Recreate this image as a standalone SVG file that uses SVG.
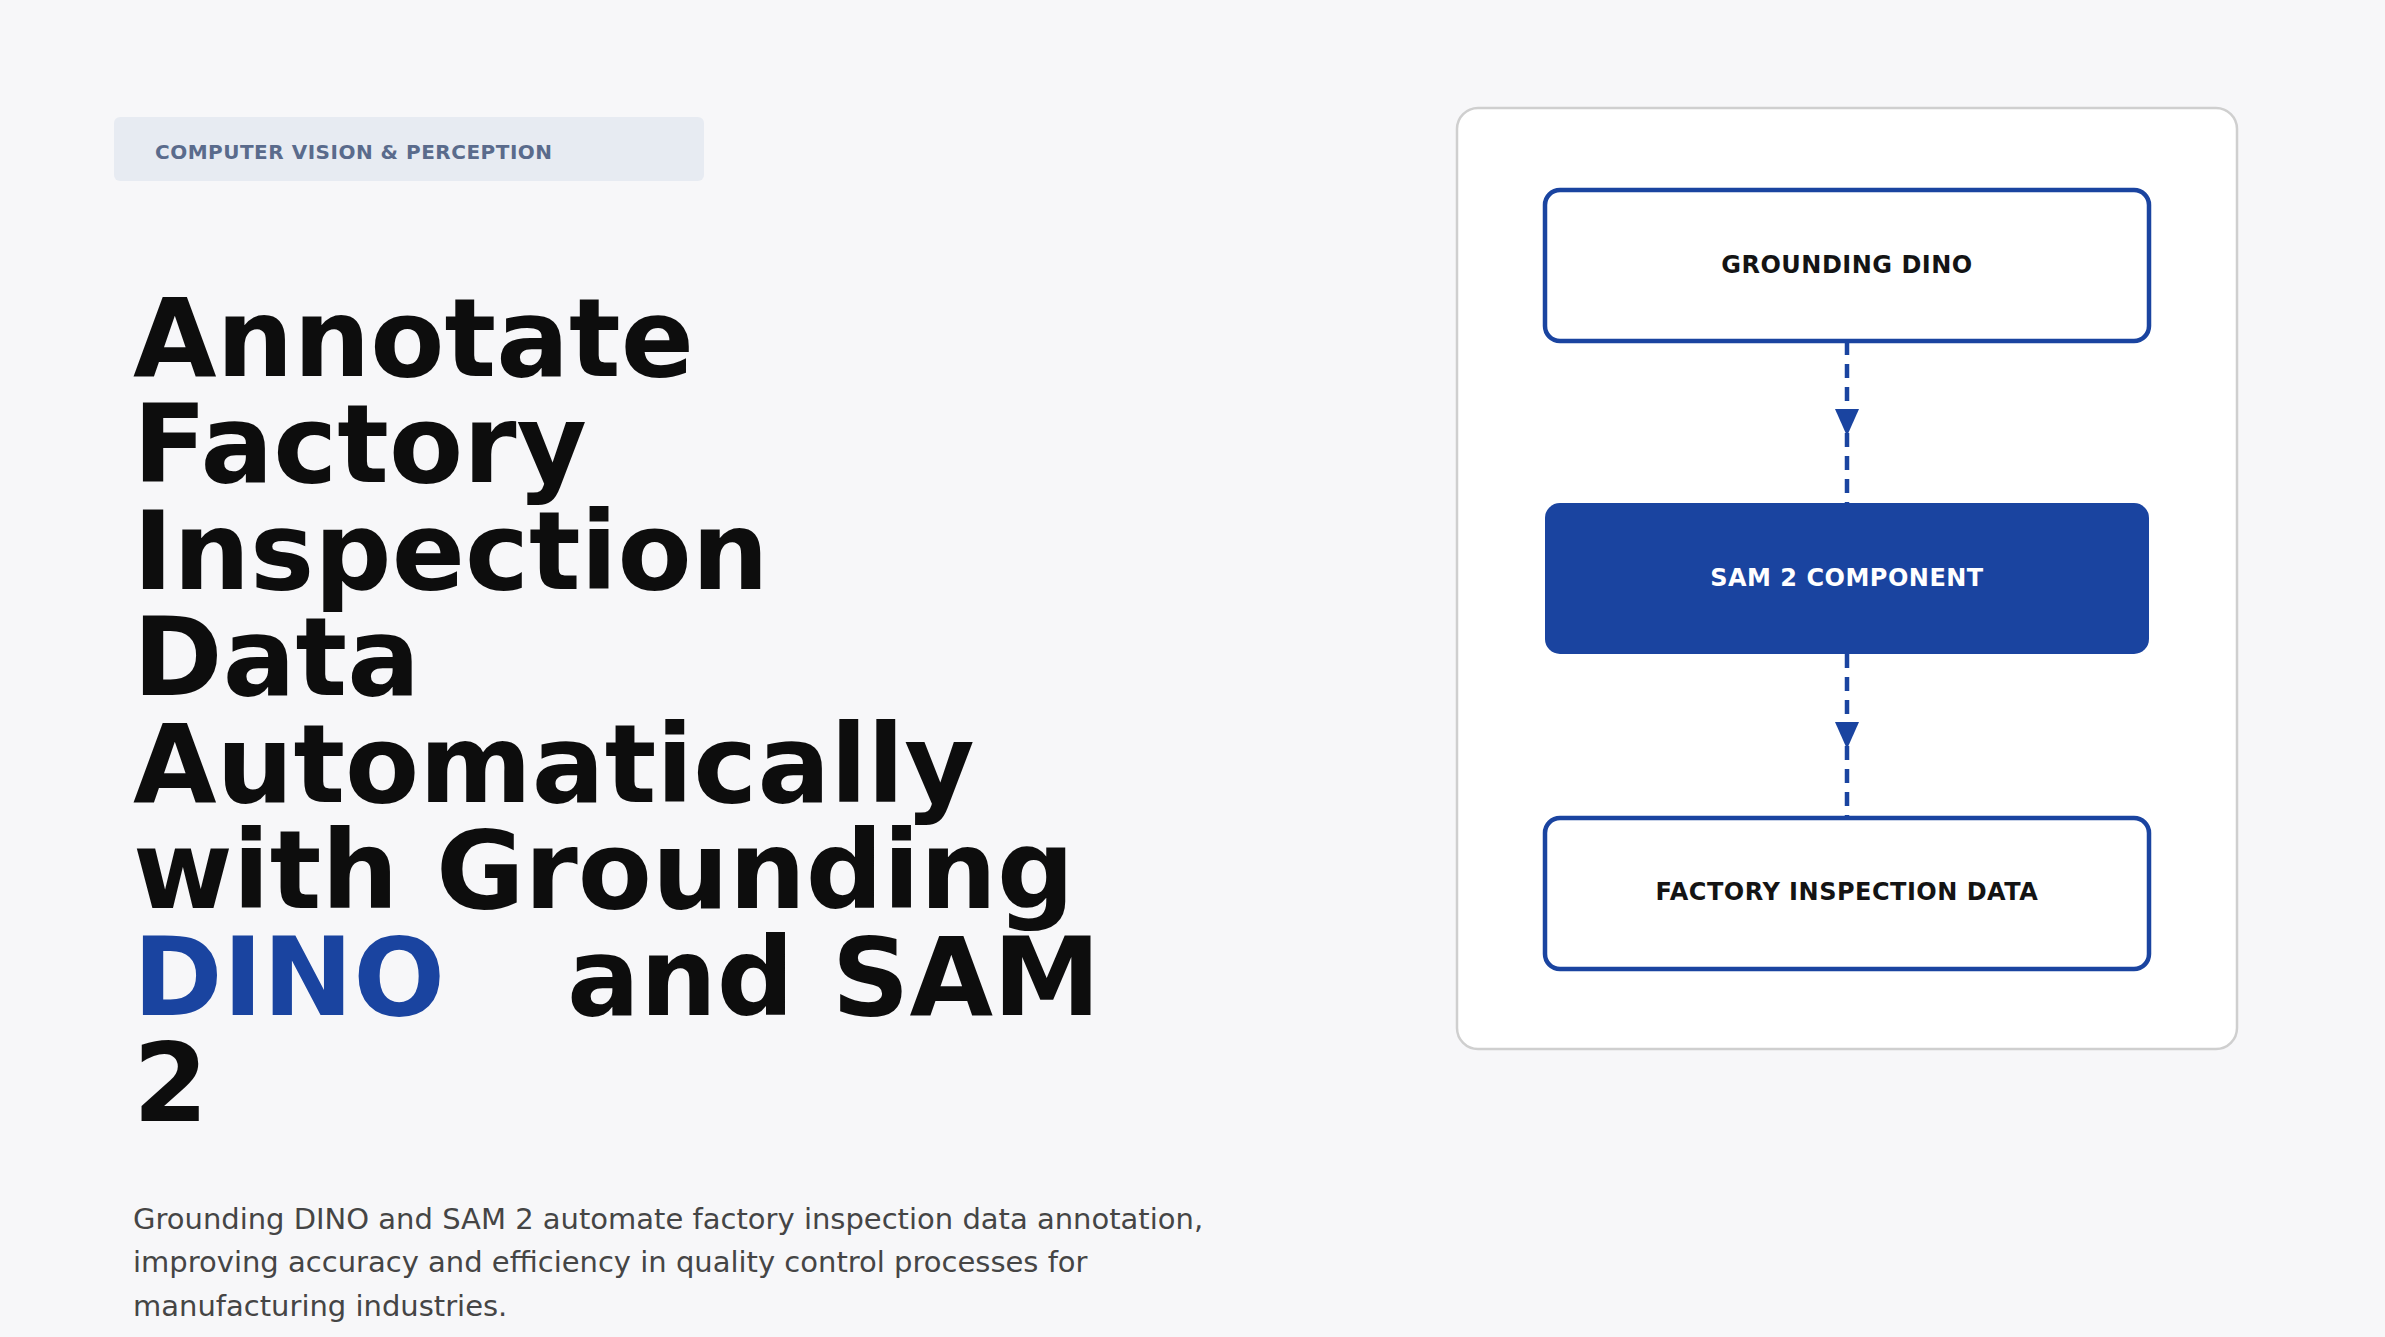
<svg xmlns="http://www.w3.org/2000/svg" width="2385" height="1337" viewBox="0 0 2385 1337">
<style>
.t{font-family:"DejaVu Sans",sans-serif;font-weight:bold;font-size:108px;fill:#0d0d0d}
.n{font-family:"DejaVu Sans",sans-serif;font-weight:bold;font-size:24px;fill:#141414;text-anchor:middle;letter-spacing:0.5px}
.p{font-family:"DejaVu Sans",sans-serif;font-size:29px;fill:#454545}
.box{fill:#fff;stroke:#1a44a0;stroke-width:4.5}
.c{stroke:#1a44a0;stroke-width:4.5;stroke-dasharray:14 9;fill:none}
</style>
<rect width="2385" height="1337" fill="#f7f7f9"/>
<g id="badge"><rect x="114" y="117" width="590" height="64" rx="6" fill="#e7ebf2"/>
<text x="155" y="159" font-family="'DejaVu Sans',sans-serif" font-weight="bold" font-size="20" fill="#5a6b8c" letter-spacing="0.5">COMPUTER VISION &amp; PERCEPTION</text></g>
<g id="title">
<text class="t" x="133" y="376">Annotate</text>
<text class="t" x="133" y="482">Factory</text>
<text class="t" x="133" y="589">Inspection</text>
<text class="t" x="133" y="695">Data</text>
<text class="t" x="133" y="802">Automatically</text>
<text class="t" x="133" y="908">with Grounding</text>
<text class="t" x="133" y="1015"><tspan fill="#1a44a0">DINO</tspan></text>
<text class="t" x="567" y="1015">and SAM</text>
<text class="t" x="133" y="1121">2</text>
</g>
<g id="desc">
<text class="p" x="133" y="1229">Grounding DINO and SAM 2 automate factory inspection data annotation,</text>
<text class="p" x="133" y="1272">improving accuracy and efficiency in quality control processes for</text>
<text class="p" x="133" y="1316">manufacturing industries.</text>
</g>
<rect x="1457" y="108" width="780" height="941" rx="21" fill="#fff" stroke="#cfcfcf" stroke-width="2.5"/>
<g id="connectors">
<path class="c" d="M1847,341 L1847,503"/>
<path class="c" d="M1847,654 L1847,818"/>
<path d="M1835,409 L1859,409 L1847,436 z" fill="#1a44a0"/>
<path d="M1835,722 L1859,722 L1847,749 z" fill="#1a44a0"/>
</g>
<g id="n1"><rect class="box" x="1545" y="190" width="604" height="151" rx="15"/><text class="n" x="1847" y="273">GROUNDING DINO</text></g>
<g id="n2"><rect x="1545" y="503" width="604" height="151" rx="15" fill="#1a44a0"/><text class="n" x="1847" y="586" style="fill:#fff">SAM 2 COMPONENT</text></g>
<g id="n3"><rect class="box" x="1545" y="818" width="604" height="151" rx="15"/><text class="n" x="1847" y="900">FACTORY INSPECTION DATA</text></g>
</svg>
